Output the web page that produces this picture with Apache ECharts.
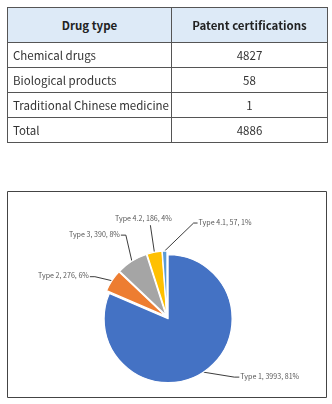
<!DOCTYPE html>
<html><head><meta charset="utf-8">
<script src="https://cdn.jsdelivr.net/npm/echarts@6/dist/echarts.min.js"></script>
<style>
html,body{margin:0;padding:0;background:#fff;width:332px;height:404px;overflow:hidden;}
#tbl{position:absolute;left:7px;top:7px;width:320px;table-layout:fixed;border-collapse:collapse;font-family:"Noto Sans CJK SC","Noto Sans",sans-serif;font-size:11.5px;color:#333;}
#tbl td,#tbl th{border:1px solid #555;padding:0 5px;height:24px;white-space:nowrap;overflow:hidden;}
#tbl th{background:#ddeaf7;height:34px;font-weight:bold;color:#222;}
#tbl td.n{text-align:center;}
#chart{position:absolute;left:0;top:0;width:332px;height:404px;}
</style></head>
<body>
<div id="chart"></div>
<table id="tbl"><colgroup><col style="width:164px"><col style="width:156px"></colgroup><tbody id="tb"></tbody></table>
<script>
const tableHeaders = ["Drug type", "Patent certifications"];
const drugTypes = ["Chemical drugs", "Biological products", "Traditional Chinese medicine", "Total"];
const patentCounts = [4827, 58, 1, 4886];

const pieCategories = ["Type 1", "Type 2", "Type 3", "Type 4.2", "Type 4.1"];
const pieValues = [3993, 276, 390, 186, 57];
const pieColors = ["#4472C4", "#ED7D31", "#A5A5A5", "#FFC000", "#5B9BD5"];

// table
let html = '<tr><th>' + tableHeaders[0] + '</th><th>' + tableHeaders[1] + '</th></tr>';
for (let i = 0; i < drugTypes.length; i++) {
  html += '<tr><td>' + drugTypes[i] + '</td><td class="n">' + patentCounts[i] + '</td></tr>';
}
document.getElementById('tb').innerHTML = html;

// leader line shape relative to the slice anchor: [bendDx, bendDy, horizontal length, label mode]
const leaderStyle = [
  [31, 5, 5, 'side'],
  [-17, -4, -5, 'side'],
  [-6, -26, -5, 'side'],
  [-4, -27, 0, 'top'],
  [29, -28, 4, 'side']
];

const chart = echarts.init(document.getElementById('chart'), null, {renderer: 'canvas'});
chart.setOption({
  animation: false,
  graphic: [{
    type: 'rect', shape: {x: 7.5, y: 191.5, width: 319, height: 206},
    style: {fill: 'none', stroke: '#444', lineWidth: 1}, silent: true
  }],
  series: [{
    type: 'pie',
    center: [167, 317],
    radius: [0, 64],
    startAngle: 90,
    clockwise: true,
    percentPrecision: 0,
    selectedMode: 'multiple',
    selectedOffset: 2,
    avoidLabelOverlap: false,
    itemStyle: {borderColor: '#fff', borderWidth: 1.2},
    label: {
      formatter: '{b}, {c}, {d}%',
      fontFamily: '"Noto Sans CJK SC","Noto Sans",sans-serif',
      fontSize: 7.1,
      color: '#595959'
    },
    labelLine: {length: 10, length2: 5, lineStyle: {color: '#262626', width: 0.9}},
    labelLayout: function (params) {
      const s = leaderStyle[params.dataIndex];
      const a = params.labelLinePoints[0];
      const r = params.labelRect;
      const bend = [a[0] + s[0], a[1] + s[1]];
      const end = [bend[0] + s[2], bend[1]];
      const pts = [[a[0], a[1]], bend, end];
      const cy = r.y + r.height / 2;
      if (s[3] === 'top') {
        return {dx: (bend[0] - 7) - (r.x + r.width / 2), dy: (bend[1] - 3) - (r.y + r.height),
                labelLinePoints: pts};
      }
      if (s[2] >= 0) {
        return {dx: (end[0] + 1) - r.x, dy: (end[1] - 1) - cy, labelLinePoints: pts};
      }
      return {dx: (end[0] - 1) - (r.x + r.width), dy: (end[1] - 1) - cy, labelLinePoints: pts};
    },
    emphasis: {disabled: true},
    data: pieCategories.map((c, i) => ({
      name: c, value: pieValues[i], selected: true,
      itemStyle: {color: pieColors[i]}
    }))
  }]
});
</script>
</body></html>
